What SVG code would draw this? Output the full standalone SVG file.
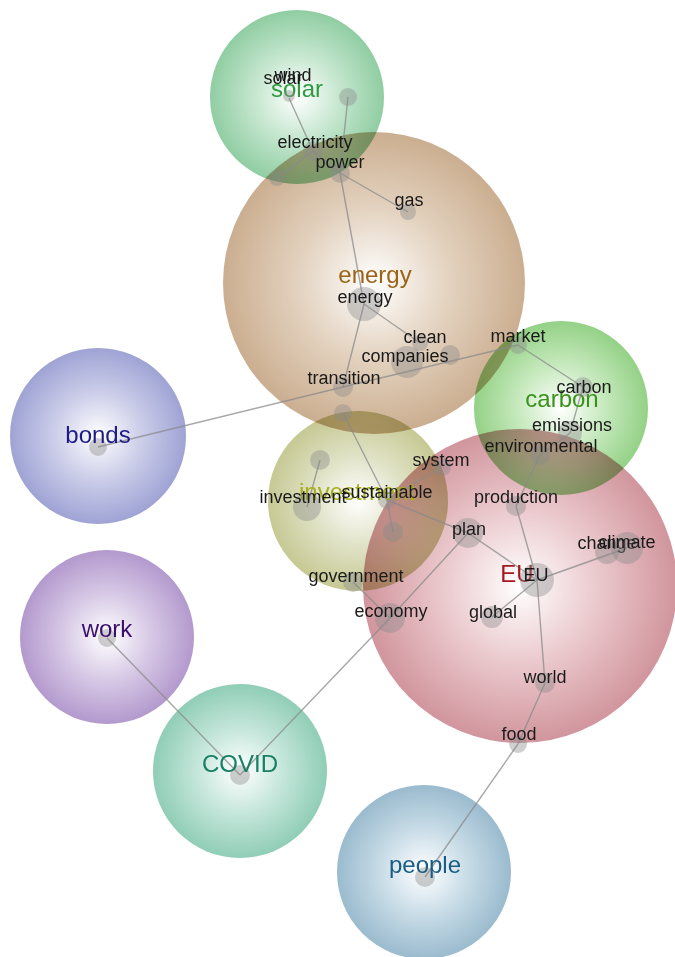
<svg xmlns="http://www.w3.org/2000/svg" width="675" height="957" viewBox="0 0 675 957">
<style>
.topic{mix-blend-mode:multiply}
.dot{fill:#8a8a8a;fill-opacity:0.4}
.lbl{font-family:"Liberation Sans",Arial,sans-serif;font-size:18px;fill:#1a1a1a;text-anchor:middle}
.tl{font-family:"Liberation Sans",Arial,sans-serif;font-size:24px;text-anchor:middle}
#connectors line{stroke:#8a8a8a;stroke-width:1.4;stroke-opacity:0.75}
</style>
<defs>
<radialGradient id="gSolar"><stop offset="0" stop-color="#ffffff"/><stop offset="0.5" stop-color="#c4e6ce"/><stop offset="1" stop-color="#90cda2"/></radialGradient>
<radialGradient id="gEnergy"><stop offset="0" stop-color="#ffffff"/><stop offset="0.5" stop-color="#e3d2bf"/><stop offset="1" stop-color="#cbae90"/></radialGradient>
<radialGradient id="gCarbon"><stop offset="0" stop-color="#ffffff"/><stop offset="0.5" stop-color="#c6e9bd"/><stop offset="1" stop-color="#94d186"/></radialGradient>
<radialGradient id="gInvest"><stop offset="0" stop-color="#ffffff"/><stop offset="0.5" stop-color="#e0e2c6"/><stop offset="1" stop-color="#c6c993"/></radialGradient>
<radialGradient id="gEU"><stop offset="0" stop-color="#ffffff"/><stop offset="0.5" stop-color="#eac8cc"/><stop offset="1" stop-color="#d1959d"/></radialGradient>
<radialGradient id="gBonds"><stop offset="0" stop-color="#ffffff"/><stop offset="0.5" stop-color="#cbcde9"/><stop offset="1" stop-color="#9fa3d4"/></radialGradient>
<radialGradient id="gWork"><stop offset="0" stop-color="#ffffff"/><stop offset="0.5" stop-color="#d7c9e6"/><stop offset="1" stop-color="#b399cd"/></radialGradient>
<radialGradient id="gCovid"><stop offset="0" stop-color="#ffffff"/><stop offset="0.5" stop-color="#c4e6da"/><stop offset="1" stop-color="#90cdb7"/></radialGradient>
<radialGradient id="gPeople"><stop offset="0" stop-color="#ffffff"/><stop offset="0.5" stop-color="#c8dce7"/><stop offset="1" stop-color="#9abbce"/></radialGradient>
</defs>
<rect width="675" height="957" fill="#ffffff"/>
<g id="topic-circles">
<circle class="topic" cx="297" cy="97" r="87" fill="url(#gSolar)"/>
<circle class="topic" cx="374" cy="283" r="151" fill="url(#gEnergy)"/>
<circle class="topic" cx="561" cy="408" r="87" fill="url(#gCarbon)"/>
<circle class="topic" cx="358" cy="501" r="90" fill="url(#gInvest)"/>
<circle class="topic" cx="520" cy="586" r="157" fill="url(#gEU)"/>
<circle class="topic" cx="98" cy="436" r="88" fill="url(#gBonds)"/>
<circle class="topic" cx="107" cy="637" r="87" fill="url(#gWork)"/>
<circle class="topic" cx="240" cy="771" r="87" fill="url(#gCovid)"/>
<circle class="topic" cx="424" cy="872" r="87" fill="url(#gPeople)"/>
</g>
<g id="connectors">
<line x1="289" y1="98" x2="313" y2="151"/>
<line x1="313" y1="151" x2="277" y2="178"/>
<line x1="313" y1="151" x2="340" y2="173"/>
<line x1="340" y1="173" x2="348" y2="97"/>
<line x1="340" y1="173" x2="408" y2="212"/>
<line x1="340" y1="173" x2="364" y2="304"/>
<line x1="364" y1="304" x2="420" y2="343"/>
<line x1="364" y1="304" x2="343" y2="387"/>
<line x1="343" y1="387" x2="98" y2="447"/>
<line x1="343" y1="387" x2="518" y2="345"/>
<line x1="518" y1="345" x2="583" y2="387"/>
<line x1="583" y1="387" x2="570" y2="433"/>
<line x1="570" y1="433" x2="540" y2="455"/>
<line x1="540" y1="455" x2="516" y2="506"/>
<line x1="516" y1="506" x2="537" y2="580"/>
<line x1="343" y1="413" x2="387" y2="500"/>
<line x1="387" y1="500" x2="393" y2="532"/>
<line x1="387" y1="500" x2="442" y2="467"/>
<line x1="387" y1="500" x2="468" y2="533"/>
<line x1="468" y1="533" x2="537" y2="580"/>
<line x1="468" y1="533" x2="390" y2="618"/>
<line x1="390" y1="618" x2="353" y2="582"/>
<line x1="390" y1="618" x2="240" y2="775"/>
<line x1="240" y1="775" x2="107" y2="638"/>
<line x1="320" y1="460" x2="307" y2="507"/>
<line x1="537" y1="580" x2="627" y2="548"/>
<line x1="537" y1="580" x2="492" y2="617"/>
<line x1="537" y1="580" x2="545" y2="683"/>
<line x1="545" y1="683" x2="518" y2="744"/>
<line x1="518" y1="744" x2="425" y2="877"/>
</g>
<g id="topic-solar"><text class="tl" x="297" y="97" fill="#2f9a3f">solar</text></g>
<g id="topic-energy"><text class="tl" x="375" y="283" fill="#9a6418">energy</text></g>
<g id="topic-carbon"><text class="tl" x="562" y="407" fill="#3a921c">carbon</text></g>
<g id="topic-investment"><text class="tl" x="357" y="500" fill="#a6ad1e">investment</text></g>
<g id="topic-EU"><text class="tl" x="517" y="582" fill="#a41820">EU</text></g>
<g id="topic-bonds"><circle class="dot" cx="98" cy="447" r="9"/><text class="tl" x="98" y="443" fill="#1c1c84">bonds</text></g>
<g id="topic-work"><circle class="dot" cx="107" cy="638" r="9"/><text class="tl" x="107" y="637" fill="#3c106e">work</text></g>
<g id="topic-COVID"><circle class="dot" cx="240" cy="775" r="10"/><text class="tl" x="240" y="772" fill="#188064">COVID</text></g>
<g id="topic-people"><circle class="dot" cx="425" cy="877" r="10"/><text class="tl" x="425" y="873" fill="#1a5c82">people</text></g>
<g id="n-solar"><circle class="dot" cx="289" cy="96" r="6"/><text class="lbl" x="283" y="84">solar</text></g>
<g id="n-wind"><circle class="dot" cx="348" cy="97" r="9"/><text class="lbl" x="293" y="81">wind</text></g>
<g id="n-electricity"><circle class="dot" cx="313" cy="151" r="10"/><circle class="dot" cx="277" cy="178" r="8"/><text class="lbl" x="315" y="148">electricity</text></g>
<g id="n-power"><circle class="dot" cx="340" cy="173" r="10"/><text class="lbl" x="340" y="168">power</text></g>
<g id="n-gas"><circle class="dot" cx="408" cy="212" r="8"/><text class="lbl" x="409" y="206">gas</text></g>
<g id="n-energy"><circle class="dot" cx="364" cy="304" r="17"/><text class="lbl" x="365" y="303">energy</text></g>
<g id="n-clean"><circle class="dot" cx="420" cy="343" r="8"/><circle class="dot" cx="450" cy="355" r="10"/><text class="lbl" x="425" y="343">clean</text></g>
<g id="n-companies"><circle class="dot" cx="407" cy="362" r="16"/><text class="lbl" x="405" y="362">companies</text></g>
<g id="n-transition"><circle class="dot" cx="343" cy="387" r="10"/><circle class="dot" cx="343" cy="413" r="9"/><text class="lbl" x="344" y="384">transition</text></g>
<g id="n-market"><circle class="dot" cx="518" cy="345" r="9"/><text class="lbl" x="518" y="342">market</text></g>
<g id="n-carbon"><circle class="dot" cx="583" cy="387" r="10"/><text class="lbl" x="584" y="393">carbon</text></g>
<g id="n-emissions"><circle class="dot" cx="570" cy="433" r="12"/><text class="lbl" x="572" y="431">emissions</text></g>
<g id="n-environmental"><circle class="dot" cx="540" cy="455" r="10"/><text class="lbl" x="541" y="452">environmental</text></g>
<g id="n-production"><circle class="dot" cx="516" cy="506" r="10"/><text class="lbl" x="516" y="503">production</text></g>
<g id="n-system"><circle class="dot" cx="442" cy="467" r="9"/><text class="lbl" x="441" y="466">system</text></g>
<g id="n-investment"><circle class="dot" cx="320" cy="460" r="10"/><circle class="dot" cx="307" cy="507" r="14"/><text class="lbl" x="303" y="503">investment</text></g>
<g id="n-sustainable"><circle class="dot" cx="387" cy="500" r="9"/><circle class="dot" cx="393" cy="532" r="10"/><text class="lbl" x="387" y="498">sustainable</text></g>
<g id="n-plan"><circle class="dot" cx="468" cy="533" r="15"/><text class="lbl" x="469" y="535">plan</text></g>
<g id="n-government"><circle class="dot" cx="353" cy="582" r="10"/><text class="lbl" x="356" y="582">government</text></g>
<g id="n-economy"><circle class="dot" cx="390" cy="618" r="15"/><text class="lbl" x="391" y="617">economy</text></g>
<g id="n-EU"><circle class="dot" cx="537" cy="580" r="17"/><text class="lbl" x="536" y="581">EU</text></g>
<g id="n-change"><circle class="dot" cx="607" cy="552" r="12"/><text class="lbl" x="607" y="549">change</text></g>
<g id="n-climate"><circle class="dot" cx="627" cy="548" r="16"/><text class="lbl" x="627" y="548">climate</text></g>
<g id="n-global"><circle class="dot" cx="492" cy="617" r="11"/><text class="lbl" x="493" y="618">global</text></g>
<g id="n-world"><circle class="dot" cx="545" cy="683" r="10"/><text class="lbl" x="545" y="683">world</text></g>
<g id="n-food"><circle class="dot" cx="518" cy="744" r="9"/><text class="lbl" x="519" y="740">food</text></g>
</svg>
